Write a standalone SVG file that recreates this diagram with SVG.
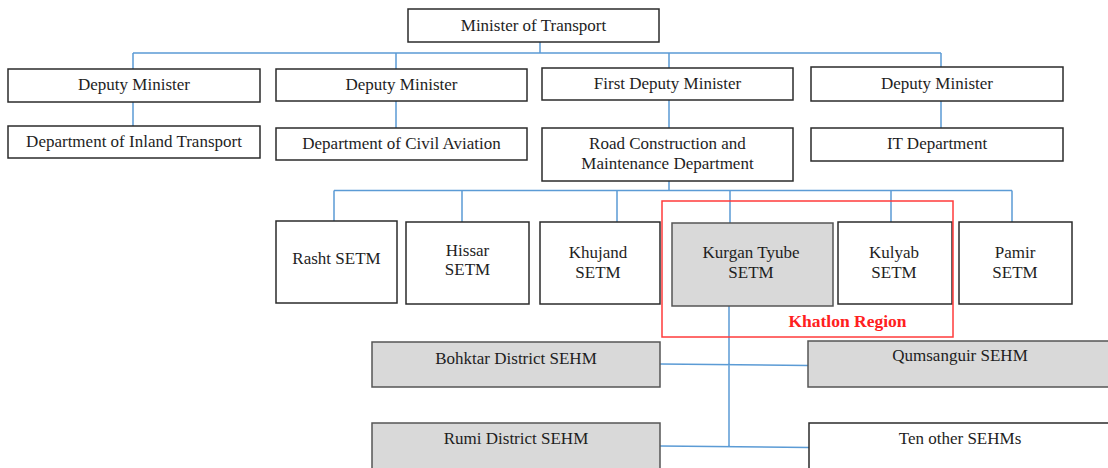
<svg xmlns="http://www.w3.org/2000/svg" width="1108" height="468" viewBox="0 0 1108 468">
  <style>
    .box { fill: #ffffff; stroke: #2b2b2b; stroke-width: 1.5; }
    .grey { fill: #d9d9d9; stroke: #555555; stroke-width: 1.5; }
    .lbl { font-family: "Liberation Serif", "Times New Roman", serif; font-size: 17px; fill: #1e1e1e; text-anchor: middle; }
    .link { stroke: #5b9bd5; stroke-width: 1.5; fill: none; }
    .region { fill: none; stroke: #ff3b3b; stroke-width: 1.5; }
    .region-lbl { font-family: "Liberation Serif", "Times New Roman", serif; font-size: 17.5px; font-weight: bold; fill: #ff2020; text-anchor: middle; }
  </style>
  <rect width="1108" height="468" fill="#ffffff"/>

  <!-- connectors -->
  <g id="connectors">
    <path class="link" d="M540 42 V53 M133 53 H941 M133 53 V69 M396 53 V69 M669 53 V68 M941 53 V67"/>
    <path class="link" d="M133 102 V126 M396 101 V128 M669 100 V128 M941 101 V128"/>
    <path class="link" d="M669 181 V190.5 M334 190.5 H1012 M334 190.5 V221 M462 190.5 V222 M617 190.5 V222 M730 190.5 V223 M891 190.5 V222 M1012 190.5 V222"/>
    <path class="link" d="M729 306 V446 M660 364 L808 365.5 M660 446 L809 447.5"/>
  </g>

  <g id="minister">
    <rect class="box" x="408" y="9" width="251" height="33"/>
    <text class="lbl" x="533.5" y="31">Minister of Transport</text>
  </g>

  <g id="deputy-1">
    <rect class="box" x="8" y="69" width="252" height="33"/>
    <text class="lbl" x="134" y="90">Deputy Minister</text>
  </g>
  <g id="dept-inland">
    <rect class="box" x="8" y="126" width="252" height="32"/>
    <text class="lbl" x="134" y="147">Department of Inland Transport</text>
  </g>

  <g id="deputy-2">
    <rect class="box" x="276" y="69" width="251" height="32"/>
    <text class="lbl" x="401.5" y="90">Deputy Minister</text>
  </g>
  <g id="dept-civil">
    <rect class="box" x="276" y="128" width="251" height="32"/>
    <text class="lbl" x="401.5" y="149">Department of Civil Aviation</text>
  </g>

  <g id="first-deputy">
    <rect class="box" x="542" y="68" width="251" height="32"/>
    <text class="lbl" x="667.5" y="89">First Deputy Minister</text>
  </g>
  <g id="road-dept">
    <rect class="box" x="542" y="128" width="251" height="53"/>
    <text class="lbl" x="667.5" y="149">Road Construction and</text>
    <text class="lbl" x="667.5" y="169">Maintenance Department</text>
  </g>

  <g id="deputy-4">
    <rect class="box" x="811" y="67" width="252" height="34"/>
    <text class="lbl" x="937" y="89">Deputy Minister</text>
  </g>
  <g id="it-dept">
    <rect class="box" x="811" y="128" width="252" height="33"/>
    <text class="lbl" x="937" y="149">IT Department</text>
  </g>

  <!-- regional SETM offices -->
  <g id="rasht">
    <rect class="box" x="276" y="221" width="121" height="82"/>
    <text class="lbl" x="336.5" y="264">Rasht SETM</text>
  </g>
  <g id="hissar">
    <rect class="box" x="406" y="222" width="123" height="82"/>
    <text class="lbl" x="467.5" y="256">Hissar</text>
    <text class="lbl" x="467.5" y="275">SETM</text>
  </g>
  <g id="khujand">
    <rect class="box" x="540" y="222" width="120" height="82"/>
    <text class="lbl" x="598" y="258">Khujand</text>
    <text class="lbl" x="598" y="278">SETM</text>
  </g>
  <g id="kurgan-tyube">
    <rect class="grey" x="672" y="223" width="161" height="83"/>
    <text class="lbl" x="751" y="258">Kurgan Tyube</text>
    <text class="lbl" x="751" y="278">SETM</text>
  </g>
  <g id="kulyab">
    <rect class="box" x="838" y="222" width="114" height="82"/>
    <text class="lbl" x="894" y="258">Kulyab</text>
    <text class="lbl" x="894" y="278">SETM</text>
  </g>
  <g id="pamir">
    <rect class="box" x="959" y="222" width="113" height="82"/>
    <text class="lbl" x="1015" y="258">Pamir</text>
    <text class="lbl" x="1015" y="278">SETM</text>
  </g>

  <g id="khatlon-region">
    <rect class="region" x="662" y="201" width="291" height="136"/>
    <text class="region-lbl" x="847.5" y="327">Khatlon Region</text>
  </g>

  <!-- district SEHM offices -->
  <g id="bohktar">
    <rect class="grey" x="372" y="342" width="288" height="45"/>
    <text class="lbl" x="516" y="364">Bohktar District SEHM</text>
  </g>
  <g id="qumsanguir">
    <rect class="grey" x="808" y="341" width="304" height="46"/>
    <text class="lbl" x="960" y="361">Qumsanguir SEHM</text>
  </g>
  <g id="rumi">
    <rect class="grey" x="372" y="423" width="288" height="60"/>
    <text class="lbl" x="516" y="444">Rumi District SEHM</text>
  </g>
  <g id="ten-other">
    <rect class="box" x="809" y="423" width="303" height="60"/>
    <text class="lbl" x="960" y="444">Ten other SEHMs</text>
  </g>
</svg>
